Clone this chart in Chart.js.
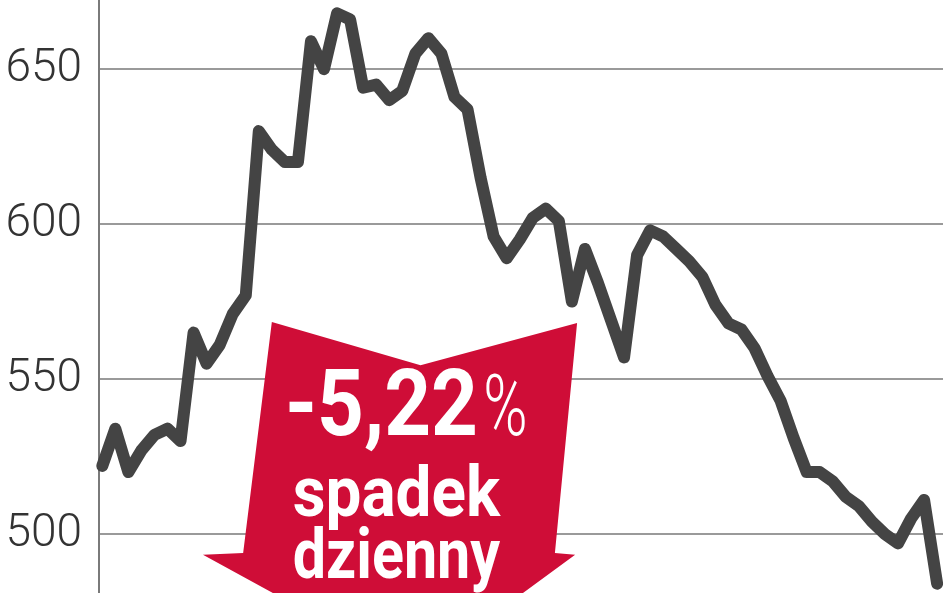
<!DOCTYPE html>
<html>
<head>
<meta charset="utf-8">
<script src="https://cdn.jsdelivr.net/npm/chart.js@4.4.1/dist/chart.umd.min.js"></script>
<style>
  html, body { margin: 0; padding: 0; background: #fff; }
  #wrap { width: 948px; height: 593px; position: relative; }
</style>
</head>
<body>
<div id="wrap"><canvas id="chart"></canvas></div>
<script>
// daily close (one point per session)
const prices = [
  522, 534, 520, 527, 532, 534, 530, 565, 555, 561,
  571, 577, 630, 624, 620, 620, 659, 650, 668, 666,
  644, 645, 640, 643, 655, 660, 655, 641, 637, 615,
  596, 589, 595, 602, 605, 601, 575, 592, 581, 569,
  557, 590, 598, 596, 592, 588, 583, 574, 568, 566,
  560, 551, 543, 531, 520, 520, 517, 512, 509, 504,
  500, 497, 505, 511, 484
];
const sessions = prices.map((_, i) => i);
const yTicks = [500, 550, 600, 650];

const changeText = '-5,22';
const labelLines = ['spadek', 'dzienny'];

// arrow outline in data units [session, price]
const arrowShape = [
  [13.0, 568.4], [24.4, 554.5], [36.4, 568.1], [34.7, 493.9],
  [36.25, 493.3], [24.06, 455.8], [7.72, 493.3], [10.8, 493.9]
];

const arrowPlugin = {
  id: 'arrow',
  beforeDatasetsDraw(chart) {
    const { ctx, scales: { x, y } } = chart;
    ctx.save();
    ctx.beginPath();
    arrowShape.forEach((p, i) => {
      const px = x.getPixelForValue(p[0]), py = y.getPixelForValue(p[1]);
      if (i === 0) ctx.moveTo(px, py); else ctx.lineTo(px, py);
    });
    ctx.closePath();
    ctx.fillStyle = '#cf0d37';
    ctx.fill();

    // text, squeezed to the widths seen in the picture
    ctx.fillStyle = '#ffffff';
    ctx.textBaseline = 'alphabetic';
    ctx.textAlign = 'left';

    const fit = (txt, font, left, right, base) => {
      ctx.font = font;
      const w = ctx.measureText(txt).width;
      ctx.save();
      ctx.translate(left, base);
      ctx.scale((right - left) / w, 1);
      ctx.fillText(txt, 0, 0);
      ctx.restore();
    };

    const b1 = y.getPixelForValue(532.0);
    fit(changeText, 'bold 92px Roboto', x.getPixelForValue(14.0), x.getPixelForValue(28.8), b1);
    fit('%', '300 86px Roboto', x.getPixelForValue(29.2), x.getPixelForValue(32.6), b1);

    const l2 = x.getPixelForValue(14.6), r2 = x.getPixelForValue(30.5);
    fit(labelLines[0], 'bold 70px Roboto', l2, r2, y.getPixelForValue(506.0));
    fit(labelLines[1], 'bold 70px Roboto', l2, r2, y.getPixelForValue(485.8));
    ctx.restore();
  }
};

new Chart(document.getElementById('chart'), {
  type: 'line',
  data: {
    datasets: [{
      data: prices.map((v, i) => ({ x: sessions[i], y: v })),
      borderColor: '#444444',
      borderWidth: 12,
      borderJoinStyle: 'round',
      borderCapStyle: 'round',
      pointRadius: 0,
      tension: 0,
      fill: false,
      clip: false
    }]
  },
  options: {
    responsive: true,
    maintainAspectRatio: false,
    animation: false,
    layout: { padding: { left: 0, right: 5, top: 0, bottom: 0 } },
    plugins: { legend: { display: false }, tooltip: { enabled: false } },
    scales: {
      x: {
        type: 'linear',
        min: -0.25,
        max: 64.45,
        display: false
      },
      y: {
        min: 481,
        max: 672.3,
        afterBuildTicks: (scale) => { scale.ticks = yTicks.map(v => ({ value: v })); },
        afterFit: (scale) => {
          scale.width = 99;
          scale.paddingTop = 0;
          scale.paddingBottom = 0;
        },
        border: { display: true, color: '#7a7a7a', width: 2 },
        grid: { color: '#9a9a9a', lineWidth: 2, drawTicks: false },
        ticks: {
          padding: 17,
          color: '#333333',
          font: { family: 'Roboto', size: 46, weight: '300' }
        }
      }
    }
  },
  plugins: [arrowPlugin]
});
</script>
</body>
</html>
